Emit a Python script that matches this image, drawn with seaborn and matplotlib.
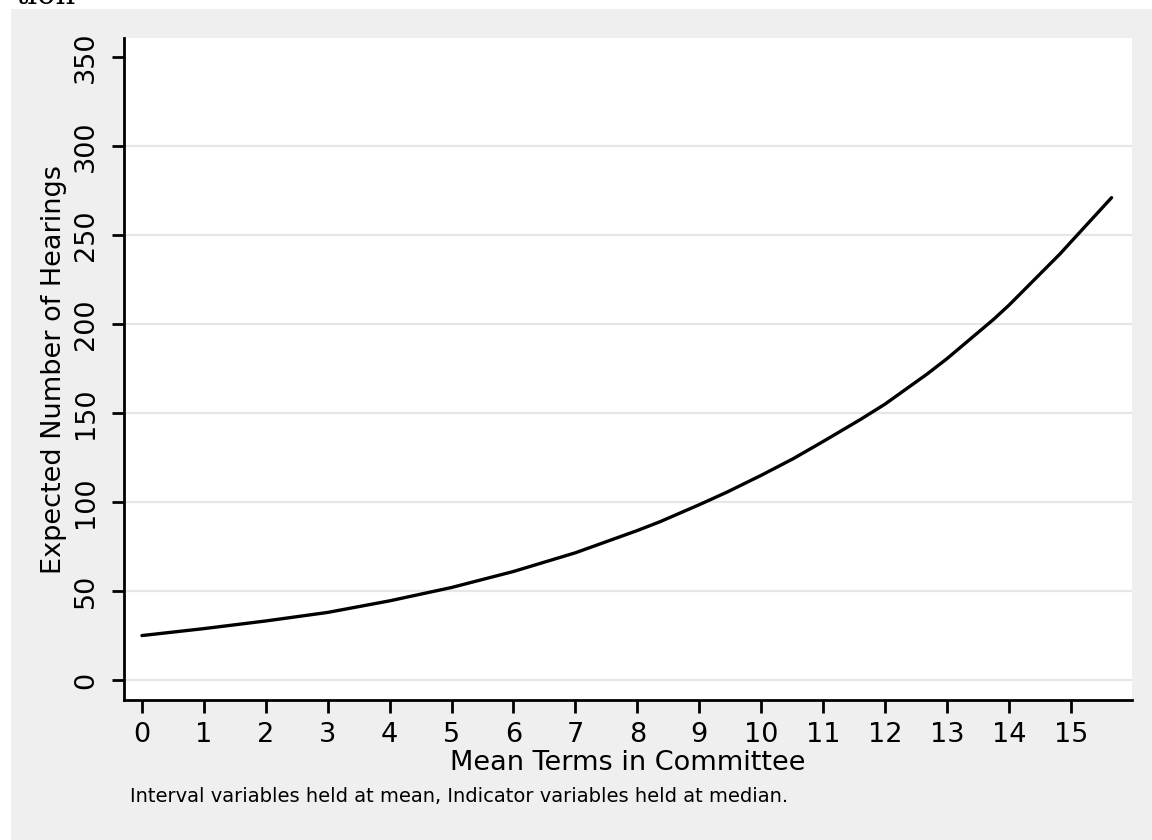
import matplotlib
matplotlib.use("Agg")
import matplotlib.pyplot as plt
import seaborn as sns
import pandas as pd
from matplotlib.patches import Rectangle

# Predicted hearings by mean committee tenure
mean_terms = [0, 1, 2, 3, 4, 5, 6, 7, 8, 8.37, 9, 9.45, 10, 10.52, 11, 11.6,
              12, 12.68, 13, 13.75, 14, 14.83, 15, 15.66]
expected_hearings = [25, 28.9, 33.2, 38, 44.5, 52, 61, 71.5, 84, 89, 98.5,
                     105.6, 115, 124.4, 134, 146.3, 155, 171.9, 180.5, 202.5,
                     210.5, 239.5, 246, 271]
x_ticks = list(range(0, 16))
y_ticks = [0, 50, 100, 150, 200, 250, 300, 350]

df = pd.DataFrame({"terms": mean_terms, "hearings": expected_hearings})

sns.set_theme(style="white")
plt.rcParams["font.family"] = ["DejaVu Sans"]

W, H = 1152, 840
fig = plt.figure(figsize=(W / 100, H / 100), dpi=100, facecolor="white")

# light gray graph region, kept behind the axes
fig.patches.append(Rectangle((11 / W, 0), 1 - 11 / W, 1 - 9 / H,
                             transform=fig.transFigure, facecolor="#efefef",
                             edgecolor="none", zorder=-5))

ax = fig.add_axes([124 / W, (H - 700) / H, (1132 - 124) / W, (700 - 38) / H])
ax.set_zorder(2)
ax.set_facecolor("white")

sns.lineplot(data=df, x="terms", y="hearings", ax=ax, color="black",
             linewidth=2.4, zorder=3)

ax.set_xlim(-0.29, 15.99)
ax.set_ylim(-11.2, 360.7)
ax.set_xticks(x_ticks)
ax.set_yticks(y_ticks)
ax.set_xticklabels([str(t) for t in x_ticks], fontsize=19.5)
ax.set_yticklabels([str(t) for t in y_ticks], fontsize=19.5, rotation=90,
                   va="center")

for v in y_ticks[:-1]:
    ax.axhline(v, color="#e6e6e6", linewidth=1.6, zorder=1)

for side in ["top", "right"]:
    ax.spines[side].set_visible(False)
for side in ["left", "bottom"]:
    ax.spines[side].set_color("black")
    ax.spines[side].set_linewidth(2.0)

ax.tick_params(axis="both", which="major", direction="out", length=9,
               width=2.0, color="black", labelcolor="black",
               bottom=True, left=True)
ax.tick_params(axis="x", pad=7)
ax.tick_params(axis="y", pad=9)

ax.set_xlabel("Mean Terms in Committee", fontsize=19.5, color="black",
              labelpad=1)
ax.set_ylabel("Expected Number of Hearings", fontsize=19.5, color="black",
              labelpad=4)

fig.text(130 / W, 1 - 797 / H,
         "Interval variables held at mean, Indicator variables held at median.",
         fontsize=14, color="black", ha="left", va="center")

# tail of a caption running off the top edge
fig.text(15 / W, 1 - 4 / H, "tion", family="DejaVu Serif", fontsize=22,
         color="black", ha="left", va="baseline")

fig.savefig("out.png", dpi=100, facecolor="white")
